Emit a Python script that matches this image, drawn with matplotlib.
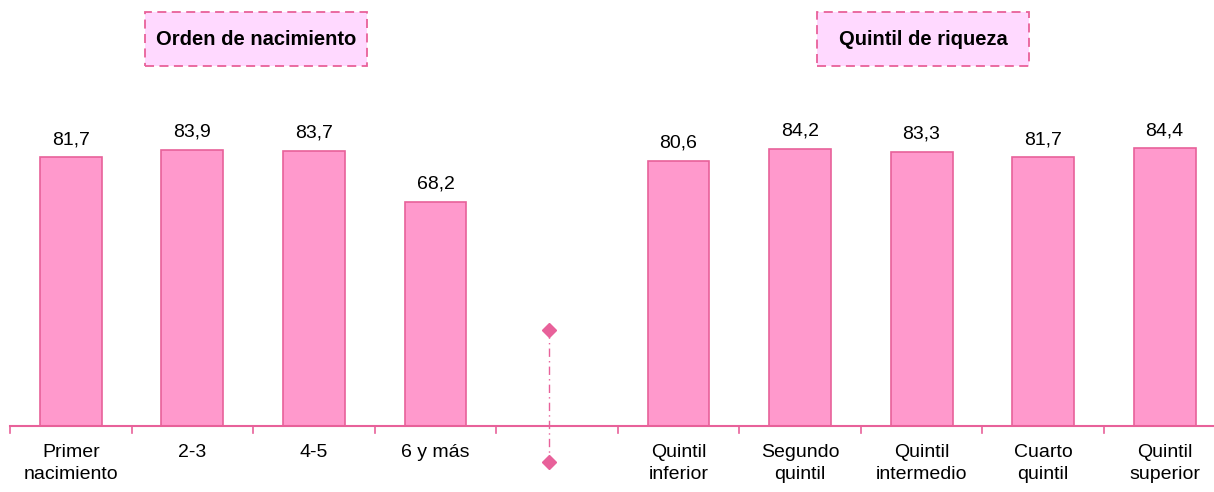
import matplotlib.pyplot as plt
from matplotlib.patches import Rectangle

plt.rcParams['font.family'] = ['Liberation Sans Narrow', 'Liberation Sans', 'DejaVu Sans']

# Data
categories = ['Primer\nnacimiento', '2-3', '4-5', '6 y más', '',
              'Quintil\ninferior', 'Segundo\nquintil', 'Quintil\nintermedio',
              'Cuarto\nquintil', 'Quintil\nsuperior']
values = [81.7, 83.9, 83.7, 68.2, None, 80.6, 84.2, 83.3, 81.7, 84.4]
group_titles = ['Orden de nacimiento', 'Quintil de riqueza']

bar_color = '#FF99CC'
edge_color = '#E8619A'

fig = plt.figure(figsize=(12.14, 4.92), dpi=100)
ax = fig.add_axes([0, 0, 1, 1])
ax.set_xlim(-0.584, 9.407)
ax.set_ylim(-20, 129.5)
ax.axis('off')

for i, v in enumerate(values):
    if v is None:
        continue
    ax.bar(i, v, width=0.51, color=bar_color, edgecolor=edge_color, linewidth=1.2)
    ax.text(i, v + 2.8, f'{v:.1f}'.replace('.', ','), ha='center', va='bottom',
            fontsize=14)

# category axis with separators
ax.plot([-0.5, 9.6], [0, 0], color=edge_color, lw=1.5, clip_on=False)
for k in range(11):
    ax.plot([-0.5 + k, -0.5 + k], [0, -2.2], color=edge_color, lw=1.2)
for i, lab in enumerate(categories):
    ax.text(i, -5.5, lab, ha='center', va='top', fontsize=14, linespacing=1.35)

# divider between groups
xd = 3.934
ax.plot([xd, xd], [29.2, -10.9], color=edge_color, lw=1, linestyle=(0, (6, 3, 1, 3)))
ax.plot([xd, xd], [29.2, -10.9], linestyle='none', marker='D', markersize=7,
        color=edge_color)

# group title boxes
boxes = [(0.609, 2.436), (6.140, 7.885)]
for (x0, x1), title in zip(boxes, group_titles):
    ax.add_patch(Rectangle((x0, 109.4), x1 - x0, 16.4, facecolor='#FFD9FF',
                           edgecolor=edge_color, linestyle=(0, (5, 3)),
                           linewidth=1.3))
    ax.text((x0 + x1) / 2, 117.6, title, ha='center', va='center', fontsize=14.5,
            fontweight='bold')

fig.savefig('out.png', dpi=100)
